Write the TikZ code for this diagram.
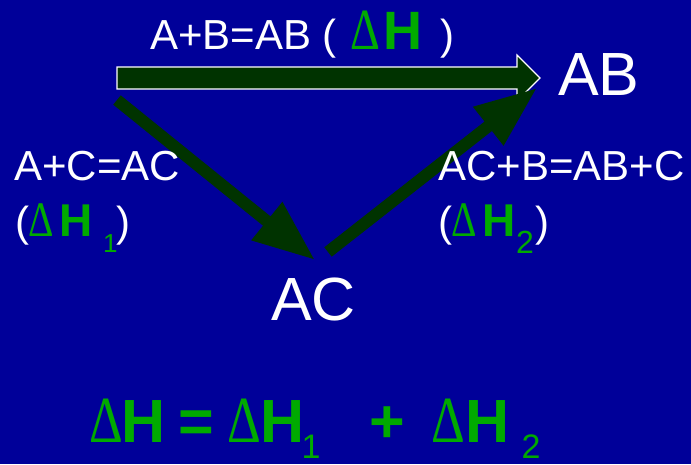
\documentclass[tikz,border=0pt]{standalone}
\usepackage{fontspec}
\setmainfont{Liberation Sans}
\newfontfamily\deltafont{Liberation Serif}
\usetikzlibrary{arrows.meta, calc}
\definecolor{slideblue}{RGB}{0,0,153}
\definecolor{dhgreen}{RGB}{0,170,0}
\definecolor{arrowgreen}{RGB}{0,51,0}
\pgfdeclarelayer{back}
\pgfdeclarelayer{links}
\pgfsetlayers{back,links,main}
% thin delta as on the slide, then a piece of text at a given offset
\newcommand{\dsym}{\scalebox{0.86}[1.08]{\deltafont Δ}}
\newcommand{\placeat}[2]{\rlap{\hspace{#1}#2}}
\tikzset{
  eqtext/.style={
    anchor=base west, inner sep=0pt, text=white,
    font=\fontsize{42}{50}\selectfont
  },
  species/.style={
    anchor=base west, inner sep=0pt, text=white,
    font=\fontsize{61}{70}\selectfont
  },
  total/.style={
    anchor=base west, inner sep=0pt, text=dhgreen,
    font=\fontsize{61}{70}\selectfont
  },
  blockarrow/.style={fill=arrowgreen, draw=white, line width=1.2pt},
  stepline/.style={line width=12pt, draw=arrowgreen, -{Triangle[length=62pt, width=46pt]}},
}

\begin{document}
\begin{tikzpicture}[x=1pt, y=-1pt]
  \begin{pgfonlayer}{back}
    \fill [slideblue] (0,0) rectangle (691,464);
  \end{pgfonlayer}
  \useasboundingbox (0,0) rectangle (691,464);

  \node (ab)   [species] at (558,95)  {AB};
  \node (ac)   [species] at (271,320) {AC};
  \node (rtop) [eqtext]  at (150,49)  {A+B=AB (%
    \placeat{14pt}{\color{dhgreen}\fontsize{54}{60}\selectfont\dsym}%
    \placeat{47pt}{\color{dhgreen}\fontsize{54}{60}\selectfont\bfseries H}%
    \placeat{104pt}{)}\hspace{116pt}};
  \node (r1)   [eqtext]  at (14,180)  {A+C=AC};
  \node (dh1)  [eqtext]  at (15,236)  {(%
    \placeat{-1pt}{\color{dhgreen}\fontsize{46}{50}\selectfont\dsym}%
    \placeat{30pt}{\color{dhgreen}\fontsize{46}{50}\selectfont\bfseries H}%
    \placeat{74pt}{\raisebox{-16pt}{\color{dhgreen}\fontsize{26}{30}\selectfont 1}}%
    \placeat{87pt}{)}\hspace{101pt}};
  \node (r2)   [eqtext]  at (438,180) {AC+B=AB+C};
  \node (dh2)  [eqtext]  at (438,236) {(%
    \placeat{-1pt}{\color{dhgreen}\fontsize{46}{50}\selectfont\dsym}%
    \placeat{30pt}{\color{dhgreen}\fontsize{46}{50}\selectfont\bfseries H}%
    \placeat{64pt}{\raisebox{-17pt}{\color{dhgreen}\fontsize{32}{36}\selectfont 2}}%
    \placeat{83pt}{)}\hspace{97pt}};
  \node (sum)  [total]   at (89,442)  {%
    \placeat{0pt}{\dsym}%
    \placeat{32pt}{\bfseries H}%
    \placeat{89pt}{\bfseries =}%
    \placeat{138pt}{\dsym}%
    \placeat{171pt}{\bfseries H}%
    \placeat{212pt}{\raisebox{-16pt}{\fontsize{34}{40}\selectfont 1}}%
    \placeat{280pt}{\bfseries +}%
    \placeat{342pt}{\dsym}%
    \placeat{376pt}{\bfseries H}%
    \placeat{432pt}{\raisebox{-16pt}{\fontsize{34}{40}\selectfont 2}}%
    \hspace{452pt}};

  \coordinate (hs) at (117,78);
  \coordinate (ht) at ($(ab.base west)+(-18,-17)$);
  \coordinate (s1) at (117,100);
  \coordinate (t1) at ($(ac.base west)+(44,-60)$);
  \coordinate (s2) at (328,252);
  \coordinate (t2) at ($(ab.base west)+(-21,-7)$);

  \begin{pgfonlayer}{links}
    \draw [blockarrow] ($(hs)+(0,-11)$) -- ($(ht)+(-23,-11)$) -- ($(ht)+(-23,-23)$) -- (ht)
      -- ($(ht)+(-23,23)$) -- ($(ht)+(-23,11)$) -- ($(hs)+(0,11)$) -- cycle;
    \draw [stepline] (s1) -- (t1);
    \draw [stepline] (s2) -- (t2);
  \end{pgfonlayer}
\end{tikzpicture}
\end{document}
